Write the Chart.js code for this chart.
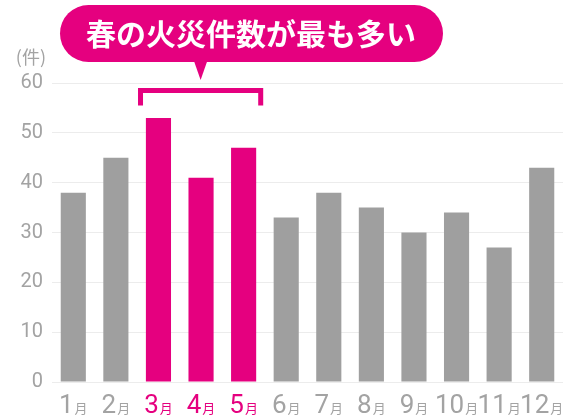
<!DOCTYPE html>
<html>
<head>
<meta charset="utf-8">
<script src="https://cdn.jsdelivr.net/npm/chart.js@4.4.1/dist/chart.umd.min.js"></script>
<style>
  html, body { margin: 0; padding: 0; background: #fff; }
  #wrap { width: 566px; height: 419px; }
</style>
</head>
<body>
<div id="wrap"><canvas id="chart" width="566" height="419"></canvas></div>
<script>
// data
const months = ["1", "2", "3", "4", "5", "6", "7", "8", "9", "10", "11", "12"];
const fireCounts = [38, 45, 53, 41, 47, 33, 38, 35, 30, 34, 27, 43];
const springMonths = ["3", "4", "5"];
const yMax = 60;
const yStep = 10;
const unitLabel = "(件)";
const monthSuffix = "月";
const headline = "春の火災件数が最も多い";

const GRAY = "#9f9f9f";
const PINK = "#e5007f";
const TICK_GRAY = "#a3a3a3";

const barColors = months.map((m) => (springMonths.includes(m) ? PINK : GRAY));

// month labels: big number + small 月, number pink for spring
const monthLabels = {
  id: "monthLabels",
  afterDraw(chart) {
    const ctx = chart.ctx;
    const xs = chart.scales.x;
    ctx.save();
    ctx.textBaseline = "alphabetic";
    ctx.textAlign = "left";
    months.forEach((m, i) => {
      const cx = xs.getPixelForValue(i);
      ctx.font = "26px Roboto";
      const w1 = ctx.measureText(m).width;
      ctx.font = "13px 'Noto Sans CJK JP'";
      const w2 = ctx.measureText(monthSuffix).width;
      const start = cx - (w1 + w2 + 1) / 2;
      ctx.fillStyle = springMonths.includes(m) ? PINK : TICK_GRAY;
      ctx.font = "26px Roboto";
      ctx.fillText(m, start, 413);
      ctx.font = "13px 'Noto Sans CJK JP'";
      ctx.fillText(monthSuffix, start + w1 + 1, 413);
    });
    ctx.restore();
  },
};

// callout bubble, bracket over spring bars, unit label
const annotations = {
  id: "annotations",
  afterDraw(chart) {
    const ctx = chart.ctx;
    const xs = chart.scales.x;
    const ys = chart.scales.y;
    const cat = xs.getPixelForValue(1) - xs.getPixelForValue(0);
    const first = months.indexOf(springMonths[0]);
    const last = months.indexOf(springMonths[springMonths.length - 1]);
    const bl = xs.getPixelForValue(first) - cat * 0.48;
    const br = xs.getPixelForValue(last) + cat * 0.46;
    const bt = ys.getPixelForValue(59);
    const bb = ys.getPixelForValue(55.5);
    ctx.save();

    // bracket
    ctx.strokeStyle = PINK;
    ctx.lineWidth = 5;
    ctx.beginPath();
    ctx.moveTo(bl + 2.5, bb);
    ctx.lineTo(bl + 2.5, bt + 2.5);
    ctx.lineTo(br - 2.5, bt + 2.5);
    ctx.lineTo(br - 2.5, bb);
    ctx.stroke();

    // bubble
    const tip = (bl + br) / 2;
    ctx.fillStyle = PINK;
    ctx.beginPath();
    ctx.roundRect(60, 5, 383, 57, 28.5);
    ctx.fill();
    ctx.beginPath();
    ctx.moveTo(tip - 7, 60);
    ctx.lineTo(tip + 7, 60);
    ctx.lineTo(tip, 80);
    ctx.closePath();
    ctx.fill();

    ctx.fillStyle = "#ffffff";
    ctx.font = "bold 30px 'Noto Sans CJK JP'";
    ctx.textAlign = "center";
    ctx.textBaseline = "middle";
    ctx.fillText(headline, 251, 34);

    // unit
    ctx.fillStyle = TICK_GRAY;
    ctx.font = "18px 'Noto Sans CJK JP'";
    ctx.textAlign = "right";
    ctx.fillText(unitLabel, 46, 57);
    ctx.restore();
  },
};

new Chart(document.getElementById("chart"), {
  type: "bar",
  data: {
    labels: months,
    datasets: [
      {
        data: fireCounts,
        backgroundColor: barColors,
        borderWidth: 0,
        barPercentage: 0.59,
        categoryPercentage: 1,
      },
    ],
  },
  options: {
    responsive: false,
    animation: false,
    devicePixelRatio: 1,
    layout: { padding: { top: 83, right: 3, left: 0, bottom: 0 } },
    plugins: {
      legend: { display: false },
      tooltip: { enabled: false },
      title: { display: false },
    },
    scales: {
      x: {
        grid: { display: false },
        border: { display: false },
        ticks: { display: false },
        afterFit: (scale) => {
          scale.height = 37;
        },
      },
      y: {
        min: 0,
        max: yMax,
        ticks: {
          stepSize: yStep,
          color: TICK_GRAY,
          padding: 9,
          font: { family: "Roboto", size: 20 },
        },
        grid: { color: "#ececec", lineWidth: 1, drawTicks: false },
        border: { display: false },
        afterFit: (scale) => {
          scale.width = 52;
        },
      },
    },
  },
  plugins: [monthLabels, annotations],
});
</script>
</body>
</html>
